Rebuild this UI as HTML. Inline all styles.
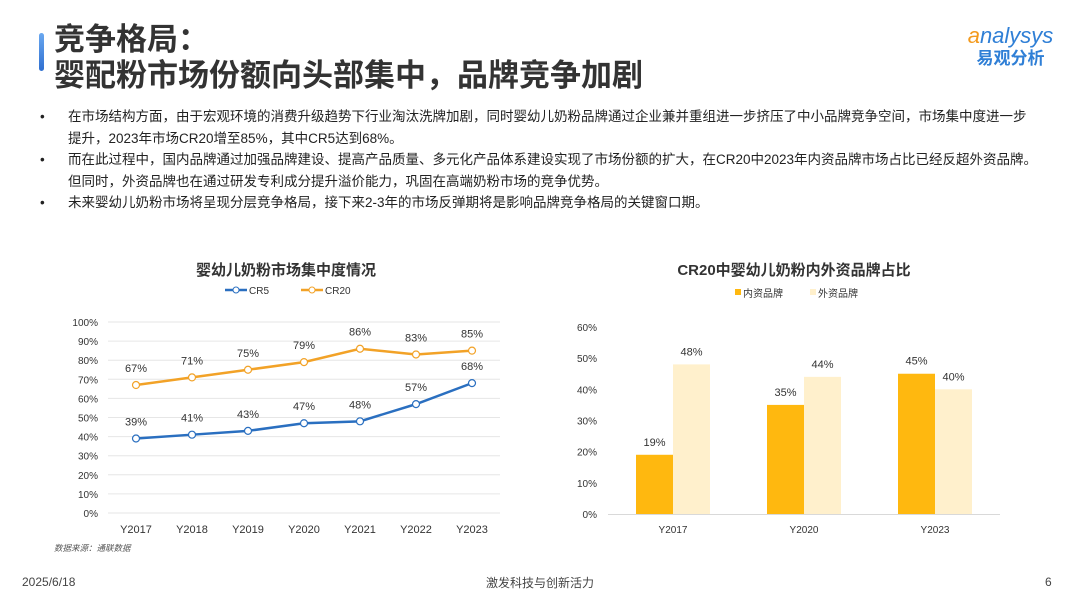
<!DOCTYPE html>
<html><head><meta charset="utf-8"><style>
body{margin:0;width:1080px;height:608px;background:#fff;font-family:"Liberation Sans","Noto Sans CJK SC",sans-serif;position:relative;overflow:hidden;color:#222}
.abs{position:absolute}
.title{left:54px;font-size:31px;font-weight:bold;color:#333;line-height:36px;white-space:nowrap}
.bl{left:0;font-size:13.5px;color:#222;line-height:21.5px;width:1080px;white-space:nowrap}
.bi{position:relative;padding-left:68px}
.bi:before{content:"•";position:absolute;left:40px}
</style></head><body>
<div class="abs" style="left:39px;top:33px;width:5px;height:38px;background:linear-gradient(#6aa8f0,#2f6fd0);border-radius:3px"></div>
<div class="abs title" style="top:22px">竞争格局：<br>婴配粉市场份额向头部集中，品牌竞争加剧</div>
<div class="abs" style="left:958px;top:24px;width:105px;text-align:center">
<div style="font-size:22px;color:#2f7fd6;font-style:italic;line-height:24px"><span style="color:#f39a1e">a</span>nalysys</div>
<div style="font-size:17px;color:#2f7fd6;font-weight:bold;line-height:22px">易观分析</div></div>
<div class="abs bl" style="top:106px">
<div class="bi">在市场结构方面，由于宏观环境的消费升级趋势下行业淘汰洗牌加剧，同时婴幼儿奶粉品牌通过企业兼并重组进一步挤压了中小品牌竞争空间，市场集中度进一步<br>提升，2023年市场CR20增至85%，其中CR5达到68%。</div>
<div class="bi">而在此过程中，国内品牌通过加强品牌建设、提高产品质量、多元化产品体系建设实现了市场份额的扩大，在CR20中2023年内资品牌市场占比已经反超外资品牌。<br>但同时，外资品牌也在通过研发专利成分提升溢价能力，巩固在高端奶粉市场的竞争优势。</div>
<div class="bi">未来婴幼儿奶粉市场将呈现分层竞争格局，接下来2-3年的市场反弹期将是影响品牌竞争格局的关键窗口期。</div>
</div>
<svg class="abs" style="left:0;top:0" width="1080" height="608" id="svg"></svg>
<div class="abs" style="left:22px;top:575px;font-size:12px;color:#444">2025/6/18</div>
<div class="abs" style="left:440px;width:200px;text-align:center;top:574px;font-size:12px;color:#444">激发科技与创新活力</div>
<div class="abs" style="left:1045px;top:575px;font-size:12px;color:#444">6</div>
<script>
const years=["Y2017","Y2018","Y2019","Y2020","Y2021","Y2022","Y2023"];
const cr5=[39,41,43,47,48,57,68];
const cr20=[67,71,75,79,86,83,85];
const barCats=["Y2017","Y2020","Y2023"];
const domestic=[19,35,45];
const foreign=[48,44,40];
const lineTicks=[0,10,20,30,40,50,60,70,80,90,100];
const barTicks=[0,10,20,30,40,50,60];
const svg=document.getElementById('svg');const NS='http://www.w3.org/2000/svg';
function mk(t,a,txt){const e=document.createElementNS(NS,t);for(const k in a)e.setAttribute(k,a[k]);if(txt!==undefined)e.textContent=txt;svg.appendChild(e);return e;}
const F='"Liberation Sans","Noto Sans CJK SC",sans-serif';
let e=mk('text',{x:286,y:275,'text-anchor':'middle','font-size':15,'font-weight':'bold',fill:'#333','font-family':F},'婴幼儿奶粉市场集中度情况');

const ly=v=>513-v*1.91, lx=i=>136+i*56;
lineTicks.forEach(t=>{let g=mk('line',{x1:108,x2:500,y1:ly(t),y2:ly(t),stroke:'#e6e6e6'});
let l=mk('text',{x:98,y:ly(t)+4,'text-anchor':'end','font-size':10,fill:'#333','font-family':F},t+'%');});
years.forEach((y,i)=>{let l=mk('text',{x:lx(i),y:533,'text-anchor':'middle','font-size':11,fill:'#333','font-family':F},y);});
function series(vals,col,name){
let p=mk('polyline',{points:vals.map((v,i)=>lx(i)+','+ly(v)).join(' '),fill:'none',stroke:col,'stroke-width':2.5});
vals.forEach((v,i)=>{let c=mk('circle',{cx:lx(i),cy:ly(v),r:3.5,fill:'#fff',stroke:col,'stroke-width':1.2});
let t=mk('text',{x:lx(i),y:ly(v)-13,'text-anchor':'middle','font-size':11,fill:'#333','font-family':F},v+'%');});}
series(cr5,'#2a6fc0','cr5');series(cr20,'#f2a227','cr20');
[[225,'#2a6fc0','CR5'],[301,'#f2a227','CR20']].forEach(([x,c,n])=>{let l=mk('line',{x1:x,x2:x+22,y1:290,y2:290,stroke:c,'stroke-width':2.5});
let ci=mk('circle',{cx:x+11,cy:290,r:3,fill:'#fff',stroke:c});
let t=mk('text',{x:x+24,y:294,'font-size':10,fill:'#333','font-family':F},n);});
let s=mk('text',{x:54,y:551,'font-size':8.5,'font-style':'italic',fill:'#555','font-family':F},'数据来源：通联数据');
e=mk('text',{x:794,y:275,'text-anchor':'middle','font-size':15,'font-weight':'bold',fill:'#333','font-family':F},'CR20中婴幼儿奶粉内外资品牌占比');

[[735,'#ffb80f','内资品牌'],[810,'#fff0cc','外资品牌']].forEach(([x,c,n])=>{let r=mk('rect',{x:x,y:289,width:6,height:6,fill:c});
let t=mk('text',{x:x+8,y:297,'font-size':10,fill:'#333','font-family':F},n);});
const by=v=>514-v*3.117, bc=i=>673+i*131, bw=37;
barTicks.forEach(t=>{let l=mk('text',{x:597,y:by(t)+4,'text-anchor':'end','font-size':10,fill:'#333','font-family':F},t+'%');});
barCats.forEach((c,i)=>{
let r1=mk('rect',{x:bc(i)-bw,y:by(domestic[i]),width:bw,height:domestic[i]*3.117,fill:'#ffb80f'});
let r2=mk('rect',{x:bc(i),y:by(foreign[i]),width:bw,height:foreign[i]*3.117,fill:'#fff0cc'});
let t1=mk('text',{x:bc(i)-bw/2,y:by(domestic[i])-9,'text-anchor':'middle','font-size':11,fill:'#333','font-family':F},domestic[i]+'%');
let t2=mk('text',{x:bc(i)+bw/2,y:by(foreign[i])-9,'text-anchor':'middle','font-size':11,fill:'#333','font-family':F},foreign[i]+'%');
let xl=mk('text',{x:bc(i),y:533,'text-anchor':'middle','font-size':10,fill:'#333','font-family':F},c);});
let ax=mk('line',{x1:608,x2:1000,y1:514.5,y2:514.5,stroke:'#d9d9d9'});
</script>
</body></html>
